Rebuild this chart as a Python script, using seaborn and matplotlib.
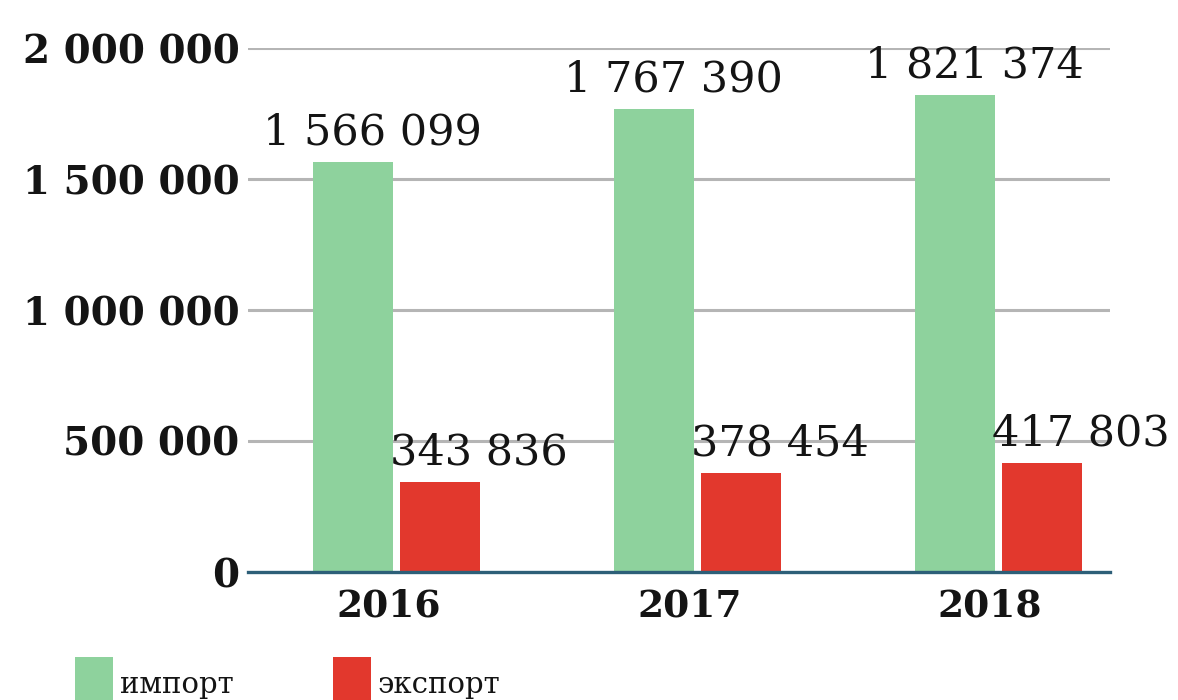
import numpy as np
import pandas as pd
import seaborn as sns
import matplotlib
matplotlib.use("Agg")
import matplotlib.pyplot as plt
import matplotlib.transforms as mtransforms
from matplotlib.patches import Patch

years = ["2016", "2017", "2018"]
import_values = [1566099, 1767390, 1821374]
export_values = [343836, 378454, 417803]
series_names = ["импорт", "экспорт"]
y_ticks = [0, 500000, 1000000, 1500000, 2000000]

colors = {"импорт": "#8ed29d", "экспорт": "#e2382d"}
ink = "#141414"

df = pd.DataFrame({
    "year": years * 2,
    "value": import_values + export_values,
    "series": [series_names[0]] * 3 + [series_names[1]] * 3,
})

sns.set_theme(style="white")
plt.rcParams["font.family"] = ["DejaVu Serif"]

fig = plt.figure(figsize=(11.78, 7.0), dpi=100)
ax = fig.add_axes([248 / 1178, 1 - 572 / 700, (1110 - 248) / 1178, (572 - 48) / 700])

sns.barplot(data=df, x="year", y="value", hue="series", palette=colors,
            width=0.578, gap=0.08, saturation=1, linewidth=0, ax=ax,
            legend=False, zorder=2)

ax.set_xlim(-0.495, 2.372)
ax.set_ylim(0, 2000000)
ax.set_yticks(y_ticks)


def fmt(v):
    return f"{v:,}".replace(",", " ")


ax.set_yticklabels([fmt(v) for v in y_ticks], fontsize=28, fontweight="bold",
                   color=ink)
ax.tick_params(axis="y", length=0, pad=6)
ax.tick_params(axis="x", length=0, pad=11, labelsize=27, labelcolor=ink)
shift = mtransforms.ScaledTranslation(-8 / 100, 0, fig.dpi_scale_trans)
for lbl in ax.get_xticklabels():
    lbl.set_fontweight("bold")
    lbl.set_transform(lbl.get_transform() + shift)
ax.set_xlabel("")
ax.set_ylabel("")

for y in y_ticks[1:]:
    ax.axhline(y, color="#b5b5b5", lw=2.2, zorder=0)

for s in ["top", "right", "left"]:
    ax.spines[s].set_visible(False)
ax.spines["bottom"].set_color("#2d5f78")
ax.spines["bottom"].set_linewidth(2.4)
ax.spines["bottom"].set_zorder(3)

# value labels above each bar
offsets = {series_names[0]: 14, series_names[1]: 28}
for cont, name in zip(ax.containers, series_names):
    for bar in cont:
        h = bar.get_height()
        ax.annotate(fmt(int(round(h))),
                    xy=(bar.get_x() + bar.get_width() / 2, h),
                    xytext=(offsets[name], 6), textcoords="offset points",
                    ha="center", va="bottom", fontsize=31, color=ink)

handles = [Patch(facecolor=colors[n], edgecolor="none") for n in series_names]
fig.legend(handles, series_names, loc="lower left",
           bbox_to_anchor=(0.051, -0.036), ncol=2, frameon=False,
           fontsize=21, labelcolor=ink, handlelength=1.3, handleheight=2.45,
           handletextpad=0.25, columnspacing=3.4, borderpad=0)

fig.savefig("out.png", dpi=100)
